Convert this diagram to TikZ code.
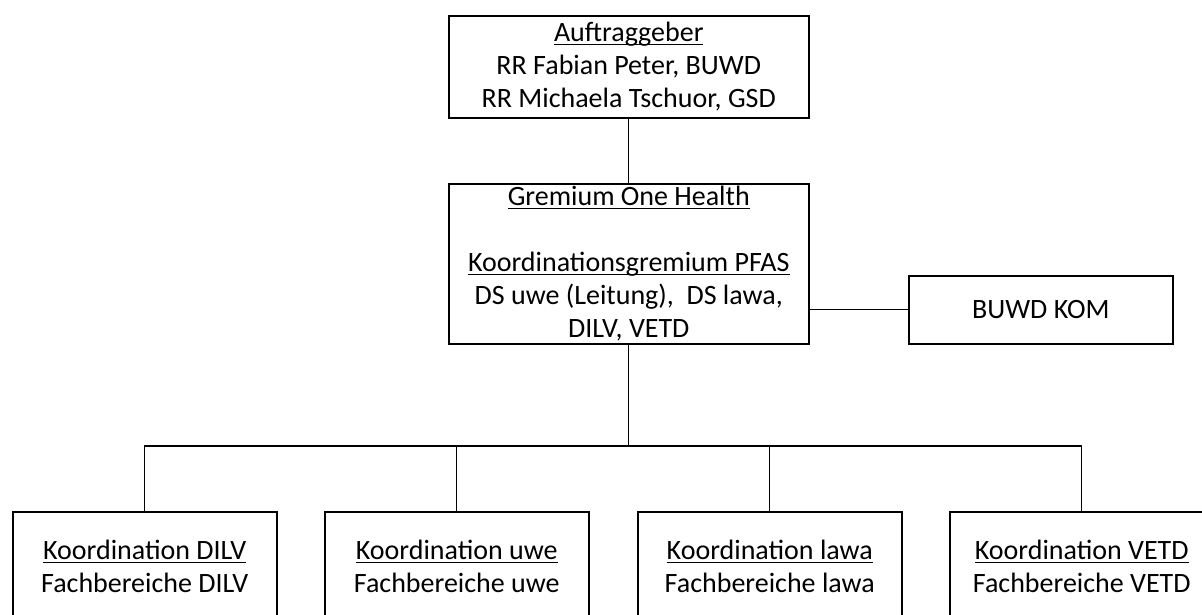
\documentclass[tikz,border=0pt]{standalone}
\usepackage{fontspec}
\setmainfont{Carlito}
\newcommand\myul[1]{\setbox0\hbox{#1}\rlap{\rule[-3.5pt]{\wd0}{1.5pt}}\box0}
\begin{document}
\begin{tikzpicture}[x=1pt,y=-1pt,
  box/.style={draw, line width=1.5pt, align=center, inner sep=0pt,
    font=\fontsize{28}{33}\selectfont, anchor=north west},
  link/.style={line width=1.3pt}]
\useasboundingbox (0,0) rectangle (1202,614);
\clip (0,0) rectangle (1202,614);
\node[box, minimum width=360pt, minimum height=102pt] (auf) at (448,15)
  {\myul{Auftraggeber}\\RR Fabian Peter, BUWD\\RR Michaela Tschuor, GSD};
\node[box, minimum width=360pt, minimum height=160pt] (grem) at (448,183)
  {\myul{Gremium One Health}\\\mbox{}\\\myul{Koordinationsgremium PFAS}\\DS uwe (Leitung), \ DS lawa,\\DILV, VETD};
\node[box, minimum width=264pt, minimum height=68pt] (kom) at (908,275) {BUWD KOM};
\node[box, minimum width=264pt, minimum height=110pt] (k1) at (12,511)
  {\myul{Koordination DILV}\\Fachbereiche DILV};
\node[box, minimum width=264pt, minimum height=110pt] (k2) at (324,511)
  {\myul{Koordination uwe}\\Fachbereiche uwe};
\node[box, minimum width=264pt, minimum height=110pt] (k3) at (637,511)
  {\myul{Koordination lawa}\\Fachbereiche lawa};
\node[box, minimum width=264pt, minimum height=110pt] (k4) at (949,511)
  {\myul{Koordination VETD}\\Fachbereiche VETD};
\coordinate (bar) at (0,446);
\draw[link] (auf.south) -- (grem.north);
\draw[link] (grem.east |- kom.west) -- (kom.west);
\draw[link] (grem.south) -- (grem.south |- bar);
\draw[link] (k1.north) -- (k1.north |- bar) -- (k4.north |- bar) -- (k4.north);
\draw[link] (k2.north) -- (k2.north |- bar);
\draw[link] (k3.north) -- (k3.north |- bar);
\end{tikzpicture}
\end{document}
